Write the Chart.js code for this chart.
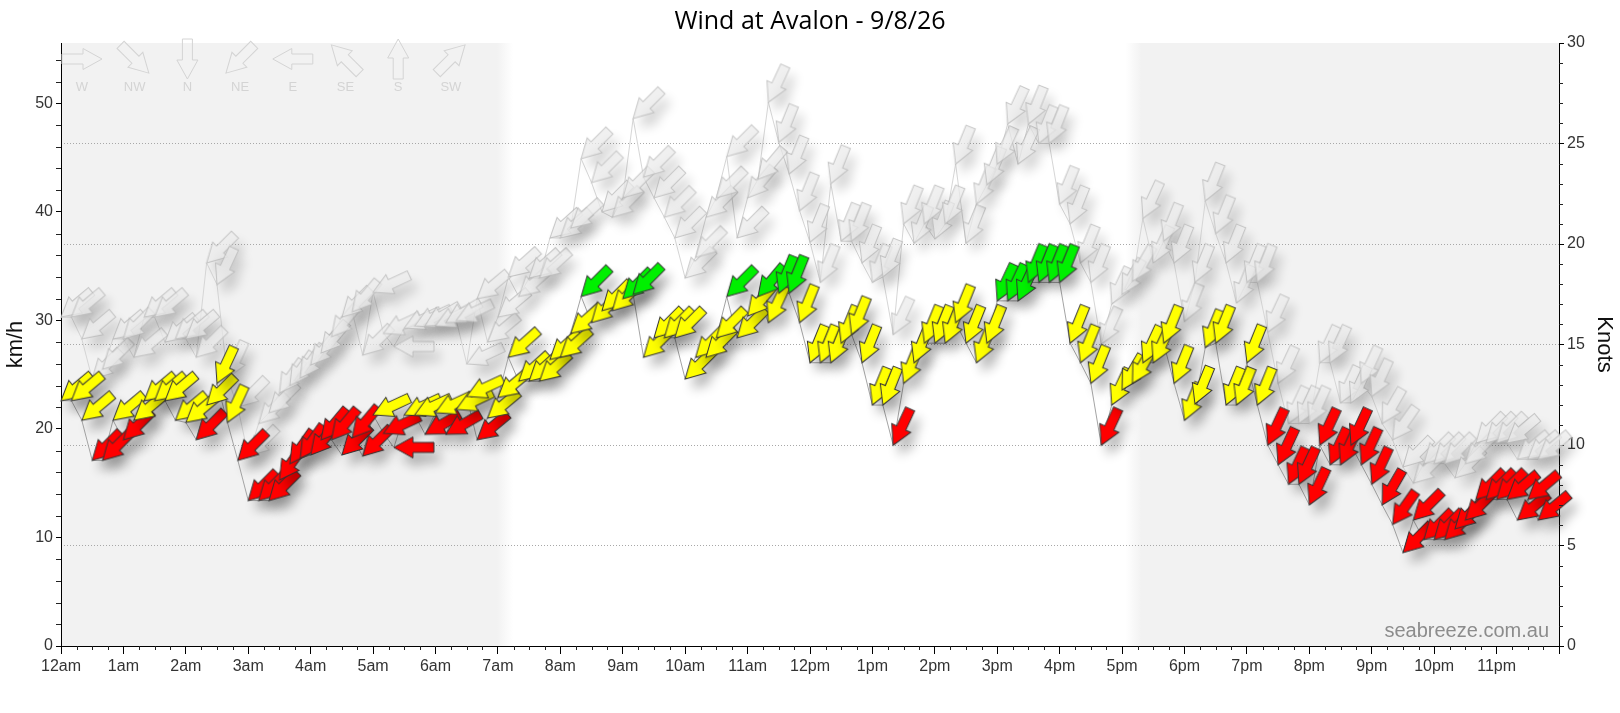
<!DOCTYPE html>
<html>
<head>
<meta charset="utf-8">
<title>Wind at Avalon - 9/8/26</title>
<script src="https://cdn.jsdelivr.net/npm/chart.js@4.4.1/dist/chart.umd.min.js"></script>
<style>
    html, body { margin: 0; padding: 0; background: #fff; }
    #wrap { width: 1620px; height: 713px; }
</style>
</head>
<body>
<div id="wrap"><canvas id="windChart"></canvas></div>
<script>
// Data: one reading every 10 minutes from midnight
const hourLabels = ['12am', '1am', '2am', '3am', '4am', '5am', '6am', '7am', '8am', '9am', '10am', '11am',
                    '12pm', '1pm', '2pm', '3pm', '4pm', '5pm', '6pm', '7pm', '8pm', '9pm', '10pm', '11pm'];

// wind speed km/h
const windKmh = [
    22.6, 22.6, 20.8, 17.1, 17.1, 20.8,
    19.0, 20.8, 22.6, 22.6, 22.6, 20.8,
    20.6, 19.0, 22.2, 24.2, 20.6, 17.1,
    13.4, 13.4, 13.4, 15.3, 16.8, 17.3,
    17.6, 19.0, 19.0, 17.6, 19.2, 17.5,
    21.3, 19.6, 18.3, 21.3, 21.3, 19.5,
    21.5, 19.5, 21.8, 23.0, 19.0, 21.0,
    22.9, 26.6, 24.4, 24.4, 24.4, 26.4,
    26.6, 28.8, 32.2, 29.8, 30.9, 30.9,
    32.0, 32.4, 26.6, 28.4, 28.4, 28.4,
    24.6, 26.6, 26.6, 28.4, 32.2, 28.4,
    30.4, 32.2, 29.8, 32.5, 32.5, 29.8,
    26.1, 26.1, 26.1, 27.9, 28.7, 26.1,
    22.2, 22.2, 18.5, 24.2, 26.1, 27.9,
    27.9, 27.9, 29.8, 27.9, 26.1, 27.9,
    31.8, 31.8, 31.8, 33.5, 33.5, 33.5,
    33.5, 27.9, 26.1, 24.2, 18.5, 22.2,
    23.6, 24.2, 26.1, 26.1, 27.9, 24.2,
    20.8, 22.3, 27.5, 27.9, 22.2, 22.2,
    26.1, 22.2, 18.5, 16.7, 14.9, 14.9,
    13.0, 18.5, 16.7, 16.7, 18.5, 16.7,
    14.9, 13.0, 11.2, 8.6, 11.6, 9.8,
    9.8, 9.8, 10.8, 11.6, 13.5, 13.5,
    13.5, 13.5, 11.6, 13.5, 11.6
];

// gusts km/h
const gustKmh = [
    30.3, 30.3, 28.3, 24.6, 25.5, 28.3,
    28.3, 26.6, 30.3, 30.3, 28.0, 28.3,
    28.3, 26.6, 35.3, 33.3, 24.7, 22.0,
    17.5, 20.5, 21.5, 23.3, 24.0, 24.7,
    25.9, 27.0, 28.5, 30.3, 30.8, 26.8,
    32.6, 28.8, 27.6, 29.3, 29.5, 29.5,
    29.5, 29.8, 30.0, 26.0, 32.0, 28.0,
    30.3, 34.0, 32.2, 33.9, 33.9, 37.6,
    37.6, 38.5, 44.9, 42.7, 40.0, 39.5,
    41.3, 48.6, 43.2, 41.3, 39.5, 37.6,
    33.9, 35.8, 39.5, 41.3, 45.1, 37.6,
    41.3, 43.0, 50.1, 46.4, 43.5, 40.1,
    37.2, 33.5, 42.6, 37.3, 37.3, 35.3,
    33.5, 34.0, 28.7, 38.9, 37.1, 38.9,
    37.5, 38.9, 44.4, 37.1, 40.7, 42.5,
    44.4, 48.1, 44.4, 48.1, 46.3, 46.3,
    40.7, 38.9, 35.3, 33.5, 27.8, 31.5,
    32.4, 33.6, 39.4, 35.3, 37.3, 35.3,
    29.9, 33.5, 41.0, 38.0, 35.3, 31.6,
    33.5, 33.5, 28.9, 24.2, 20.5, 20.5,
    20.5, 26.1, 26.1, 22.4, 22.4, 24.2,
    23.0, 20.5, 19.0, 16.5, 15.0, 16.8,
    16.8, 16.8, 15.5, 16.8, 18.7, 18.7,
    18.7, 18.7, 17.2, 17.2, 17.2
];

// direction the wind comes from, degrees
const windDirDeg = [
    50, 50, 50, 45, 45, 50,
    45, 50, 50, 50, 50, 50,
    50, 45, 45, 25, 25, 45,
    45, 45, 45, 35, 35, 35,
    40, 40, 40, 45, 40, 45,
    65, 65, 90, 65, 65, 60,
    65, 60, 65, 65, 50, 50,
    50, 48, 48, 48, 48, 48,
    48, 48, 45, 45, 45, 45,
    45, 45, 45, 45, 45, 45,
    45, 45, 45, 45, 45, 45,
    40, 40, 25, 22, 22, 22,
    22, 22, 22, 22, 22, 22,
    22, 22, 25, 22, 22, 22,
    22, 22, 22, 22, 22, 22,
    25, 25, 25, 22, 22, 22,
    22, 22, 22, 22, 25, 25,
    30, 30, 25, 25, 22, 22,
    22, 22, 22, 22, 22, 22,
    22, 22, 25, 25, 25, 25,
    25, 25, 25, 25, 25, 25,
    25, 30, 35, 45, 45, 45,
    45, 45, 45, 45, 45, 45,
    45, 50, 50, 50, 50
];

const times = windKmh.map((v, i) => i * 10); // minutes after midnight

// night (shaded) periods, minutes
const nightShade = [[0, 427], [1031, 1440]];

// direction key along the top
const legendDirs = ['W', 'NW', 'N', 'NE', 'E', 'SE', 'S', 'SW'];
const legendDeg = [270, 315, 0, 45, 90, 135, 180, 225];

const KMH_PER_KNOT = 1.852;
const FONT = '"Liberation Sans", Arial, sans-serif';

// Colour by speed in knots
function windColor(kmh) {
    let kn = kmh / KMH_PER_KNOT;
    if (kn < 11) return '#ff0000';
    if (kn < 17) return '#ffff00';
    return '#00f000';
}

// arrow pointing along +x, tip at origin
function arrowPath(ctx) {
    ctx.beginPath();
    ctx.moveTo(0, 0);
    ctx.lineTo(-19, -10.5);
    ctx.lineTo(-19, -5);
    ctx.lineTo(-40, -5);
    ctx.lineTo(-40, 5);
    ctx.lineTo(-19, 5);
    ctx.lineTo(-19, 10.5);
    ctx.closePath();
}

// screen angle of an arrow for wind coming from fromDeg
function screenAngle(fromDeg) {
    let b = (fromDeg + 180) * Math.PI / 180;
    return Math.atan2(-Math.cos(b), Math.sin(b));
}

// cached point images, tip in the centre
var arrowCache = {};
function arrowImage(fill, stroke, deg, shadowAlpha) {
    let key = fill + '|' + stroke + '|' + deg;
    if (arrowCache[key]) return arrowCache[key];
    const size = 130;
    const cv = document.createElement('canvas');
    cv.width = size;
    cv.height = size;
    const g = cv.getContext('2d');
    const ang = screenAngle(deg);

    // shadow only (shape drawn off canvas)
    g.save();
    g.shadowColor = 'rgba(0,0,0,' + shadowAlpha + ')';
    g.shadowBlur = 12;
    g.shadowOffsetX = 1000 + 6;
    g.shadowOffsetY = 10;
    g.translate(size / 2 - 1000, size / 2);
    g.rotate(ang);
    arrowPath(g);
    g.fillStyle = '#000';
    g.fill();
    g.restore();

    // the arrow
    g.save();
    g.translate(size / 2, size / 2);
    g.rotate(ang);
    arrowPath(g);
    g.fillStyle = fill;
    g.fill();
    g.lineWidth = 1;
    g.strokeStyle = stroke;
    g.stroke();
    g.restore();

    arrowCache[key] = cv;
    return cv;
}

function windPoint(ctx) {
    if (ctx.type !== 'data') return 'circle';
    let i = ctx.dataIndex;
    return arrowImage(windColor(windKmh[i]), '#333', windDirDeg[i], 0.3);
}

function gustPoint(ctx) {
    if (ctx.type !== 'data') return 'circle';
    let i = ctx.dataIndex;
    return arrowImage('rgba(234,234,234,0.72)', 'rgba(180,180,180,0.75)', windDirDeg[i], 0.18);
}

// Plugins
const background = {
    id: 'background',
    beforeDraw(chart) {
        const {ctx, chartArea: a, scales: {x}} = chart;
        ctx.save();
        ctx.fillStyle = '#fff';
        ctx.fillRect(0, 0, chart.width, chart.height);
        const fade = 16;
        nightShade.forEach(([from, to]) => {
            let x0 = x.getPixelForValue(from);
            let x1 = x.getPixelForValue(to);
            let l = from > 0 ? x0 - fade / 2 : a.left;
            let r = to < 1440 ? x1 + fade / 2 : a.right;
            let w = r - l;
            let grad = ctx.createLinearGradient(l, 0, r, 0);
            grad.addColorStop(0, from > 0 ? 'rgba(242,242,242,0)' : '#f2f2f2');
            grad.addColorStop(from > 0 ? fade / w : 0, '#f2f2f2');
            grad.addColorStop(to < 1440 ? 1 - fade / w : 1, '#f2f2f2');
            grad.addColorStop(1, to < 1440 ? 'rgba(242,242,242,0)' : '#f2f2f2');
            ctx.fillStyle = grad;
            ctx.fillRect(l, a.top, w, a.bottom - a.top);
        });
        ctx.restore();
    }
};

const dirLegend = {
    id: 'dirLegend',
    beforeDatasetsDraw(chart) {
        const {ctx, chartArea: a} = chart;
        ctx.save();
        legendDirs.forEach((name, i) => {
            let cx = a.left + 21 + i * 52.7;
            let cy = a.top + 16;
            ctx.save();
            ctx.translate(cx, cy);
            ctx.rotate(screenAngle(legendDeg[i]));
            ctx.translate(20, 0);
            arrowPath(ctx);
            ctx.lineWidth = 1;
            ctx.strokeStyle = '#d4d4d4';
            ctx.stroke();
            ctx.restore();
            ctx.fillStyle = '#d4d4d4';
            ctx.font = '13px ' + FONT;
            ctx.textAlign = 'center';
            ctx.textBaseline = 'middle';
            ctx.fillText(name, cx, a.top + 44);
        });
        // watermark
        ctx.font = '20px ' + FONT;
        ctx.fillStyle = '#8c8c8c';
        ctx.textAlign = 'right';
        ctx.textBaseline = 'alphabetic';
        ctx.fillText('seabreeze.com.au', a.right - 10, a.bottom - 9);
        ctx.restore();
    }
};

const minorTicks = {
    id: 'minorTicks',
    afterDraw(chart) {
        const {ctx, scales: {x, y, y2}} = chart;
        ctx.save();
        ctx.lineWidth = 1;
        ctx.strokeStyle = '#222';
        ctx.beginPath();
        for (let m = 15; m < 1440; m += 15) {
            if (m % 60 === 0) continue;
            let px = Math.round(x.getPixelForValue(m)) + 0.5;
            ctx.moveTo(px, x.top);
            ctx.lineTo(px, x.top + 4);
        }
        for (let v = 2; v < 55; v += 2) {
            if (v % 10 === 0) continue;
            let py = Math.round(y.getPixelForValue(v)) + 0.5;
            ctx.moveTo(y.right - 5, py);
            ctx.lineTo(y.right, py);
        }
        for (let k = 1; k < 30; k++) {
            if (k % 5 === 0) continue;
            let py = Math.round(y2.getPixelForValue(k)) + 0.5;
            ctx.moveTo(y2.left, py);
            ctx.lineTo(y2.left + 4, py);
        }
        ctx.stroke();
        ctx.restore();
    }
};

// Create chart
function createWindChart(canvasID) {
    const ctx = document.getElementById(canvasID).getContext('2d');
    Chart.defaults.font.family = FONT;

    const myChart = new Chart(ctx, {
        type: 'line',
        data: {
            datasets: [{
                label: 'Wind',
                data: windKmh.map((v, i) => ({x: times[i], y: v})),
                borderColor: '#a4a4a4',
                borderWidth: 1,
                pointStyle: windPoint,
                pointRadius: 4,
                pointBorderWidth: 0,
                clip: false,
                yAxisID: 'y'
            }, {
                label: 'Gust',
                data: gustKmh.map((v, i) => ({x: times[i], y: v})),
                borderColor: '#d6d6d6',
                borderWidth: 1,
                pointStyle: gustPoint,
                pointRadius: 4,
                pointBorderWidth: 0,
                clip: false,
                yAxisID: 'y'
            }]
        },
        options: {
            responsive: true,
            maintainAspectRatio: false,
            animation: false,
            events: [],
            layout: {padding: 0},
            plugins: {
                legend: {display: false},
                tooltip: {enabled: false},
                title: {
                    display: true,
                    text: 'Wind at Avalon - 9/8/26',
                    color: '#000',
                    font: {family: '"Open Sans", sans-serif', size: 25, weight: 'normal'},
                    padding: {top: 7, bottom: 6}
                }
            },
            scales: {
                x: {
                    type: 'linear',
                    min: 0,
                    max: 1440,
                    afterFit: (s) => { s.height = 67; },
                    ticks: {
                        stepSize: 60,
                        autoSkip: false,
                        maxRotation: 0,
                        color: '#333',
                        padding: 3,
                        font: {size: 16},
                        callback: (v) => hourLabels[v / 60] ?? ''
                    },
                    grid: {drawOnChartArea: false, tickLength: 8, tickColor: '#000'},
                    border: {color: '#000'}
                },
                y: {
                    position: 'left',
                    min: 0,
                    max: 30 * KMH_PER_KNOT,
                    afterFit: (s) => { s.width = 61; },
                    ticks: {stepSize: 10, includeBounds: false, color: '#333', padding: 3, font: {size: 16}},
                    grid: {drawOnChartArea: false, tickLength: 5, tickColor: '#000'},
                    border: {color: '#000'},
                    title: {display: true, text: 'km/h', color: '#111', font: {size: 22}, padding: {top: 3, bottom: 0}}
                },
                y2: {
                    position: 'right',
                    min: 0,
                    max: 30,
                    afterFit: (s) => { s.width = 61; },
                    ticks: {stepSize: 5, includeBounds: false, color: '#333', padding: 3, font: {size: 16}},
                    grid: {
                        drawOnChartArea: true,
                        color: (c) => (c.tick && (c.tick.value === 0 || c.tick.value === 30)) ? 'rgba(0,0,0,0)' : '#a8a8a8',
                        tickLength: 5,
                        tickColor: '#000'
                    },
                    border: {color: '#000', dash: [1, 2]},
                    title: {display: true, text: 'Knots', color: '#111', font: {size: 22}, padding: {top: 3, bottom: 0}}
                }
            }
        },
        plugins: [background, dirLegend, minorTicks]
    });

    return myChart;
}

createWindChart('windChart');
</script>
</body>
</html>
